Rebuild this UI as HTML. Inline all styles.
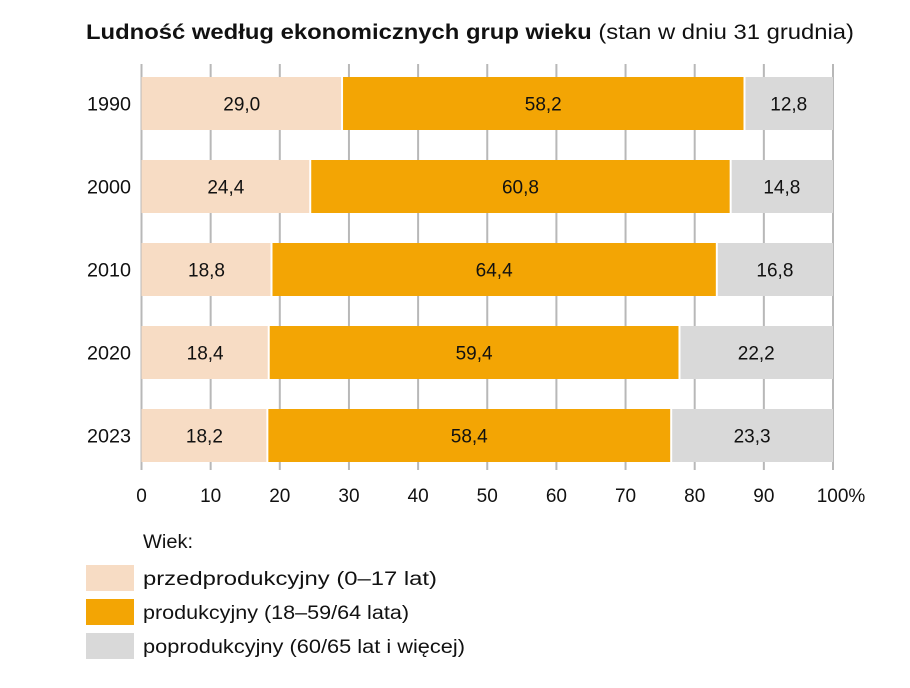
<!DOCTYPE html>
<html><head><meta charset="utf-8"><style>
body{margin:0;background:#fff;width:910px;height:683px;overflow:hidden;font-family:"Liberation Sans",sans-serif;}
</style></head><body>
<svg width="910" height="683" id="c" font-family="Liberation Sans, sans-serif">
<text x="86" y="39" font-size="21" fill="#111" textLength="768" lengthAdjust="spacingAndGlyphs"><tspan font-weight="bold">Ludność według ekonomicznych grup wieku</tspan> (stan w dniu 31 grudnia)</text>
<g id="grid"></g><g id="bars"></g><g id="axis"></g>
<text x="143" y="548" font-size="19" fill="#111" textLength="50" lengthAdjust="spacingAndGlyphs">Wiek:</text>
<g id="legend"></g>
</svg>
<script>
const years=["1990","2000","2010","2020","2023"];
const pre=[29.0,24.4,18.8,18.4,18.2];
const prod=[58.2,60.8,64.4,59.4,58.4];
const post=[12.8,14.8,16.8,22.2,23.3];
const ticks=[0,10,20,30,40,50,60,70,80,90,100];
const seriesNames=["przedprodukcyjny (0–17 lat)","produkcyjny (18–59/64 lata)","poprodukcyjny (60/65 lat i więcej)"];
const legendWidths=[294,266,322];
const colors=["#f7dcc4","#f3a504","#d9d9d9"];
const NS="http://www.w3.org/2000/svg";
const x=v=>141.5+v*6.915;
const y=i=>77+i*83;
const BH=53;
function mk(t,a,p){const e=document.createElementNS(NS,t);for(const k in a)e.setAttribute(k,a[k]);p.appendChild(e);return e;}
const g=document.getElementById('grid'),b=document.getElementById('bars'),ax=document.getElementById('axis'),lg=document.getElementById('legend');
ticks.forEach(t=>{
 const l=mk('line',{x1:x(t),x2:x(t),y1:64,y2:470,stroke:'#b8b8b8','stroke-width':2},g);
 
 
 const tx=mk('text',{x:t===100?x(t)+8:x(t),y:502,'font-size':19,'text-anchor':'middle',fill:'#111'},ax);
 tx.textContent=t===100?'100%':t;
 
 
});
years.forEach((yr,i)=>{
 const yt=mk('text',{x:131,y:y(i)+BH/2+7,'font-size':19,'text-anchor':'end',fill:'#111',textLength:44,lengthAdjust:'spacingAndGlyphs'},ax);
 yt.textContent=yr;
 
 
 const vals=[pre[i],prod[i],post[i]];
 let s=0;
 vals.forEach((v,k)=>{
  const x0=x(s), x1=k===2?x(100):x(s+v);
  const r=mk('rect',{x:x0+(k?1:0),y:y(i),width:x1-x0-(k?1:0)-(k<2?1:0),height:BH,fill:colors[k]},b);
  
  
  const t=mk('text',{x:(x0+x1)/2,y:y(i)+BH/2+7,'font-size':19,'text-anchor':'middle',fill:'#111'},b);
  t.textContent=v.toFixed(1).replace('.',',');
  
  
  s+=v;
 });
});
seriesNames.forEach((n,k)=>{
 const yy=565+k*34;
 const r=mk('rect',{x:86,y:yy,width:48,height:26,fill:colors[k]},lg);
 
 
 const t=mk('text',{x:143,y:yy+20,'font-size':19,fill:'#111',textLength:legendWidths[k],lengthAdjust:'spacingAndGlyphs'},lg);
 t.textContent=n;
 
 
});
</script>
</body></html>
